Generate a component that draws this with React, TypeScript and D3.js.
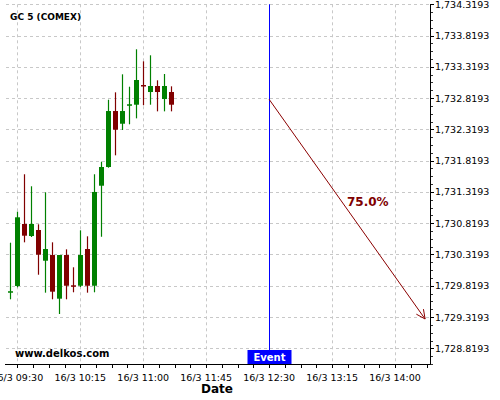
import React from "react";
import * as d3 from "d3";

const times = ["09:25","09:30","09:35","09:40","09:45","09:50","09:55","10:00","10:05","10:10","10:15","10:20","10:25","10:30","10:35","10:40","10:45","10:50","10:55","11:00","11:05","11:10","11:15","11:20"];
const opens = [1729.731,1729.816,1730.807,1730.615,1730.711,1730.220,1730.311,1729.613,1730.311,1729.827,1729.820,1730.407,1729.820,1731.419,1731.718,1732.613,1732.410,1732.720,1732.714,1733.029,1732.917,1733.013,1732.805,1732.917];
const highs = [1730.508,1731.004,1731.602,1731.410,1730.802,1731.314,1730.514,1730.311,1730.402,1730.115,1730.706,1730.610,1731.602,1731.803,1732.794,1732.912,1733.200,1733.002,1733.600,1733.408,1733.504,1733.104,1733.205,1733.008];
const lows = [1729.603,1729.795,1730.514,1730.599,1729.996,1729.709,1729.603,1729.368,1729.603,1729.715,1729.799,1729.709,1729.715,1730.603,1731.707,1731.905,1732.310,1732.401,1732.496,1732.705,1732.714,1732.608,1732.608,1732.608];
const closes = [1729.732,1730.914,1730.620,1730.807,1730.316,1730.407,1729.725,1730.311,1729.820,1729.826,1730.311,1729.820,1731.319,1731.718,1732.613,1732.314,1732.613,1732.721,1733.109,1733.028,1733.013,1732.917,1733.013,1732.714];

const yTickValues = [1728.8193,1729.3193,1729.8193,1730.3193,1730.8193,1731.3193,1731.8193,1732.3193,1732.8193,1733.3193,1733.8193,1734.3193];
const xTickLabels = ["09:30","10:15","11:00","11:45","12:30","13:15","14:00"];

const eventTime = "12:30";
const arrowStart = { time: "12:30", value: 1732.8005 };
const arrowEnd = { time: "14:21:30", value: 1729.288 };
const arrowLabel = "75.0%";
const title = "GC 5 (COMEX)";

const parse = (s: string) => {
  const p = s.split(":").map(Number);
  return new Date(2021, 2, 16, p[0], p[1], p[2] || 0);
};

const FONT = "DejaVu Sans, sans-serif";
const UP = "#008000";
const DOWN = "#800000";
const GRID = "#c8c8c8";

export default function App() {
  const W = 500, H = 400;
  const left = 5, right = 430, top = 4.3, bottom = 364;
  const x = d3.scaleTime().domain([parse("09:21:12"), parse("14:25:00")]).range([left, right]);
  const y = d3.scaleLinear().domain([1728.5687, 1734.3193]).range([bottom, top]);

  const xMajor = xTickLabels.map(parse);
  const xMinor: Date[] = [];
  {
    const step = 11.25 * 60000;
    const t0 = parse("09:30").getTime();
    for (let t = t0; t <= x.domain()[1].getTime(); t += step) xMinor.push(new Date(t));
  }
  const yMinor: number[] = [];
  for (let v = yTickValues[0] - 0.25; v <= 1734.3194; v += 0.125) {
    if (v >= 1728.5687 - 1e-6) yMinor.push(v);
  }
  const fmt = d3.format(",.4f");
  const fmtT = d3.timeFormat("%-d/%-m %H:%M");

  const ex = Math.round(x(parse(eventTime))) + 0.5;
  const ax1 = x(parse(arrowStart.time)), ay1 = y(arrowStart.value);
  const ax2 = x(parse(arrowEnd.time)), ay2 = y(arrowEnd.value);
  const ang = Math.atan2(ay2 - ay1, ax2 - ax1);
  const hl = 10, ha = 0.45;
  const w1 = [ax2 - hl * Math.cos(ang - ha), ay2 - hl * Math.sin(ang - ha)];
  const w2 = [ax2 - hl * Math.cos(ang + ha), ay2 - hl * Math.sin(ang + ha)];

  return (
    <svg width={W} height={H} style={{ position: "absolute", left: 0, top: 0, background: "#fff" }} fontFamily={FONT}>
      <rect width={W} height={H} fill="#fff" />
      {/* grid */}
      {yTickValues.map((v, i) => (
        <line key={"gy" + i} x1={left + 1} x2={right} y1={Math.round(y(v)) + 0.5} y2={Math.round(y(v)) + 0.5} stroke={GRID} strokeDasharray="3,3" />
      ))}
      {xMajor.map((d, i) => (
        <line key={"gx" + i} x1={Math.round(x(d)) + 0.5} x2={Math.round(x(d)) + 0.5} y1={top} y2={bottom} stroke={GRID} strokeDasharray="3,3" />
      ))}
      {/* candles */}
      {times.map((t, i) => {
        const cx = Math.round(x(parse(t)));
        const o = opens[i], c = closes[i];
        const col = c >= o ? UP : DOWN;
        const yt = y(Math.max(o, c)), yb = y(Math.min(o, c));
        const h = Math.max(1.5, yb - yt);
        return (
          <g key={"c" + i}>
            <line x1={cx + 0.5} x2={cx + 0.5} y1={y(highs[i])} y2={y(lows[i])} stroke={col} strokeWidth={1.2} />
            <rect x={cx - 2} y={yt} width={5} height={h} fill={col} />
          </g>
        );
      })}
      {/* event line */}
      <line x1={ex} x2={ex} y1={top} y2={bottom} stroke="#0000ff" strokeWidth={1} />
      {/* arrow */}
      <line x1={ax1} y1={ay1} x2={ax2} y2={ay2} stroke="#8b0000" strokeWidth={1} />
      <polyline points={`${w1[0]},${w1[1]} ${ax2},${ay2} ${w2[0]},${w2[1]}`} fill="none" stroke="#8b0000" strokeWidth={1} />
      <text x={347} y={206} fontSize={12} fontWeight="bold" fill="#800000">{arrowLabel}</text>
      {/* axes */}
      <line x1={left} x2={right + 0.5} y1={bottom + 0.5} y2={bottom + 0.5} stroke="#000" />
      <line x1={right + 0.5} x2={right + 0.5} y1={top} y2={bottom + 0.5} stroke="#000" />
      {xMinor.map((d, i) => (
        <line key={"xm" + i} x1={Math.round(x(d)) + 0.5} x2={Math.round(x(d)) + 0.5} y1={bottom} y2={bottom + 4} stroke="#000" />
      ))}
      {xMajor.map((d, i) => (
        <text key={"xl" + i} x={x(d)} y={381} fontSize={9.5} textAnchor="middle" fill="#000">{fmtT(d)}</text>
      ))}
      {yMinor.map((v, i) => (
        <line key={"ym" + i} x1={right} x2={right + 3} y1={Math.round(y(v)) + 0.5} y2={Math.round(y(v)) + 0.5} stroke="#000" strokeWidth={0.8} />
      ))}
      {yTickValues.map((v, i) => (
        <g key={"yl" + i}>
          <line x1={right} x2={right + 4} y1={Math.round(y(v)) + 0.5} y2={Math.round(y(v)) + 0.5} stroke="#000" />
          <text x={435} y={y(v) + 3.5} fontSize={9.5} fill="#000">{fmt(v)}</text>
        </g>
      ))}
      {/* labels */}
      <text x={10} y={19.5} fontSize={9} fontWeight="bold" fill="#000">{title}</text>
      <text x={15} y={356.5} fontSize={10} fontWeight="bold" fill="#000">www.delkos.com</text>
      <rect x={ex - 22} y={350} width={44} height={14} fill="#0000ff" />
      <text x={ex} y={361} fontSize={10} fontWeight="bold" fill="#fff" textAnchor="middle">Event</text>
      <text x={217} y={393} fontSize={12} fontWeight="bold" textAnchor="middle" fill="#000">Date</text>
    </svg>
  );
}
